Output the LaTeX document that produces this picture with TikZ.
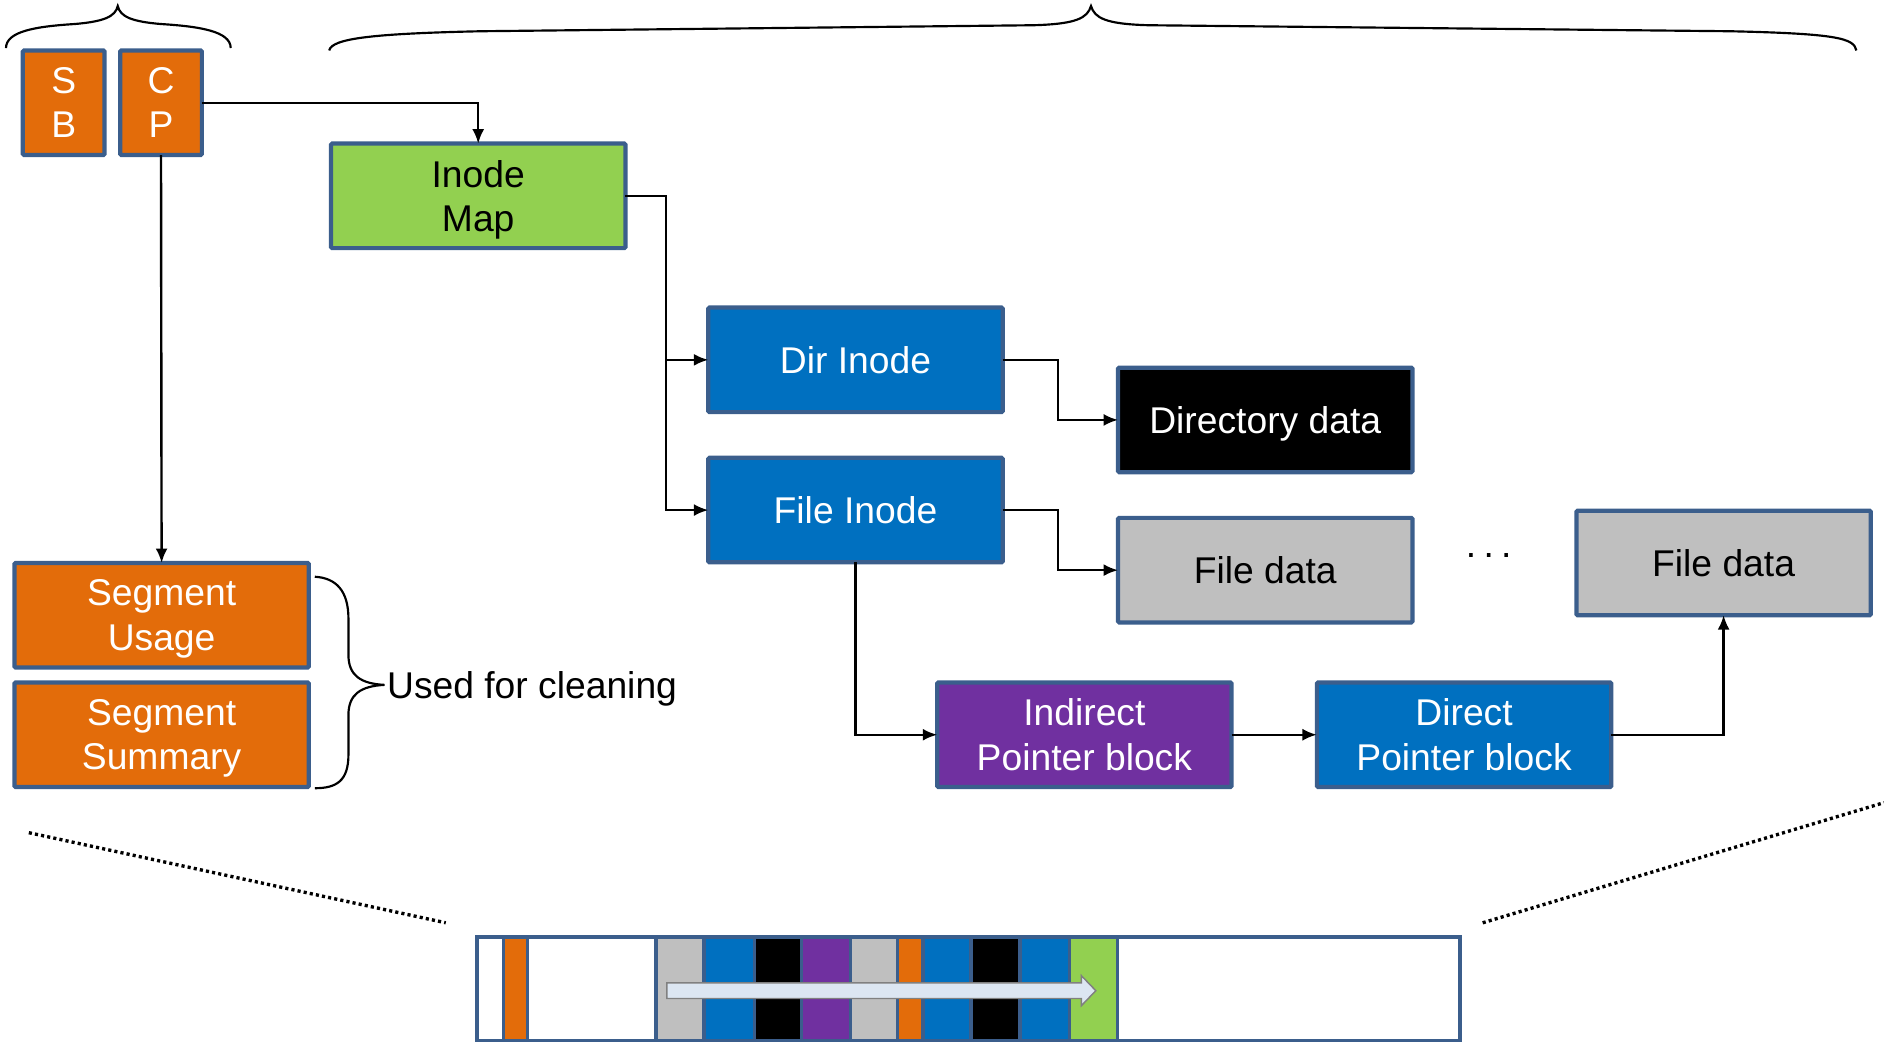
\documentclass[tikz,border=0pt]{standalone}
\usepackage{fontspec}
\setmainfont{Liberation Sans}
\usetikzlibrary{arrows.meta}
\definecolor{edge}{RGB}{59,94,140}
\definecolor{segorange}{RGB}{227,108,10}
\definecolor{mapgreen}{RGB}{146,208,80}
\definecolor{inodeblue}{RGB}{0,112,192}
\definecolor{ptrpurple}{RGB}{112,48,160}
\definecolor{datagray}{RGB}{191,191,191}
\definecolor{scanfill}{RGB}{220,230,242}
\definecolor{scanedge}{RGB}{128,128,128}
% a line whose descenders do not count for vertical centring
\newcommand{\nodepth}[1]{\raisebox{0pt}[\height][0pt]{#1}}
\begin{document}
\begin{tikzpicture}[x=1pt,y=-1pt,
  blk/.style={draw=edge, line width=3.5pt, inner sep=0pt, outer sep=0pt,
    align=center, font=\fontsize{31}{37}\selectfont, rounded corners=1pt},
  wide/.style={blk, minimum width=245pt, minimum height=87pt},
  narrow/.style={blk, minimum width=68pt, minimum height=87pt},
  conn/.style={line width=2pt, -{Latex[length=12pt,width=10pt]}},
  brace/.style={line width=1.8pt},
  zoomline/.style={line width=2.8pt, dash pattern=on 2.6pt off 2.6pt},
  cell/.style={draw=edge, line width=3pt},
  lbl/.style={font=\fontsize{31}{37}\selectfont, inner sep=0pt}]
\useasboundingbox (0,0) rectangle (1568,868);

% checkpoint region header blocks
\node[narrow, fill=segorange, text=white] (sb) at (53,85.5) {S\\B};
\node[narrow, fill=segorange, text=white] (cp) at (134,85.5) {C\\P};

% metadata and data blocks
\node[wide, fill=mapgreen] (imap) at (398,163) {Inode\\\nodepth{Map}};
\node[wide, fill=inodeblue, text=white] (dir) at (712,299.5) {Dir Inode};
\node[wide, fill=inodeblue, text=white] (finode) at (712,424.5) {File Inode};
\node[wide, fill=black, text=white] (ddata) at (1053,349.5) {\nodepth{Directory data}};
\node[wide, fill=datagray] (fdata1) at (1053,474.5) {File data};
\node[wide, fill=datagray] (fdata2) at (1434.5,468.5) {File data};
\node[wide, fill=ptrpurple, text=white] (indirect) at (902.5,611.5) {Indirect\\Pointer block};
\node[wide, fill=inodeblue, text=white] (direct) at (1218.5,611.5) {Direct\\Pointer block};
\node[lbl] (dots) at (1239,462) {.\hspace{6pt}.\hspace{6pt}.};

% segment summary blocks
\node[wide, fill=segorange, text=white] (susage) at (134.5,512) {Segment\\\nodepth{Usage}};
\node[wide, fill=segorange, text=white] (ssum) at (134.5,611.5) {Segment\\\nodepth{Summary}};
\node[lbl, anchor=west] (clean) at (322,570) {\nodepth{Used for cleaning}};

% pointers
\draw[conn] (cp.east) -| (imap.north);
\draw[conn] (cp.south) -- (susage.north);
\draw[conn] (imap.east) -- ++(34,0) |- (dir.west);
\draw[conn] (imap.east) -- ++(34,0) |- (finode.west);
\draw[conn] (dir.east) -- ++(46,0) |- (ddata.west);
\draw[conn] (finode.east) -- ++(46,0) |- (fdata1.west);
\draw[conn] (finode.south) |- (indirect.west);
\draw[conn] (indirect.east) -- (direct.west);
\draw[conn] (direct.east) -| (fdata2.south);

% braces
\draw[brace] (5,40) .. controls (5,26) and (30,22) .. (62,20)
  .. controls (86,18) and (96,14) .. (98,5)
  .. controls (100,14) and (110,18) .. (134,20)
  .. controls (166,22) and (192,26) .. (192,40);
\draw[brace] (274,42) .. controls (276,32) and (310,28) .. (400,26)
  -- (860,21) .. controls (896,20) and (905,15) .. (908,5)
  .. controls (911,15) and (920,20) .. (956,21)
  -- (1440,26) .. controls (1530,28) and (1543,32) .. (1545,42);
\draw[brace] (262,480) .. controls (280,481) and (290,492) .. (290,515)
  -- (290,545) .. controls (290,562) and (300,569) .. (320,570)
  .. controls (300,571) and (290,578) .. (290,595)
  -- (290,628) .. controls (290,650) and (280,656) .. (262,656);

% zoom guides
\draw[zoomline] (24,693) -- (371,768);
\draw[zoomline] (1234,768) -- (1568,668);

% the log on disk
\begin{scope}
\clip (0,0) rectangle (1568,868);
\foreach \a/\b/\c in {397/419/white, 419/439/segorange, 439/546/white,
  546/586/datagray, 586/628/inodeblue, 628/667/black, 667/708/ptrpurple,
  708/747/datagray, 747/768/segorange, 768/808/inodeblue, 808/849/black,
  849/890/inodeblue, 890/930/mapgreen, 930/1215/white}
  \draw[cell, fill=\c] (\a,780) rectangle (\b,866);
\draw[cell] (397,780) rectangle (1215,866);
\draw[fill=scanfill, draw=scanedge, line width=1.2pt]
  (555,818) -- (900,818) -- (900,812) -- (912,824.5) -- (900,837)
  -- (900,831) -- (555,831) -- cycle;
\end{scope}
\end{tikzpicture}
\end{document}
